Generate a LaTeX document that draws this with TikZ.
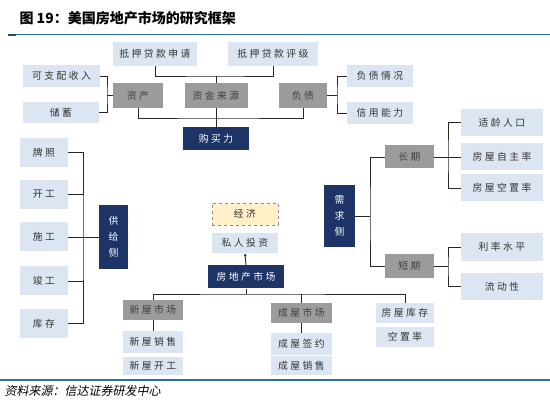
\documentclass[tikz,border=0pt]{standalone}
\usepackage{fontspec}
\setmainfont{Noto Sans CJK SC}
\newfontfamily\boxfont[LetterSpace=25]{Noto Sans CJK SC}
\newfontfamily\srcfont[FakeSlant=0.2]{Noto Sans CJK SC}
\usepackage{tikz}
\usetikzlibrary{arrows.meta,calc,positioning}
\definecolor{lightblue}{RGB}{220,230,242}
\definecolor{boxgrey}{RGB}{155,155,155}
\definecolor{navy}{RGB}{31,52,102}
\definecolor{paleyellow}{RGB}{255,240,200}
\definecolor{rulecol}{RGB}{46,110,170}
\definecolor{linecol}{RGB}{40,40,40}

\begin{document}
\begin{tikzpicture}[x=1pt,y=-1pt,
    lbox/.style={fill=lightblue,text=black!80,inner sep=0,font=\boxfont\fontsize{9.8}{11}\selectfont},
    gbox/.style={fill=boxgrey,text=black!75,inner sep=0,font=\boxfont\fontsize{9.8}{11}\selectfont},
    nbox/.style={fill=navy,text=white,inner sep=0,font=\boxfont\fontsize{9.8}{11}\selectfont},
    ybox/.style={fill=paleyellow,draw=black!45,dashed,line width=0.8pt,text=black!80,inner sep=0,
      font=\boxfont\fontsize{9.8}{11}\selectfont},
    conn/.style={draw=linecol,line width=0.9pt}]
  \useasboundingbox (0,0) rectangle (550,403);

  % Title and rules
  \node[anchor=west,font=\bfseries\fontsize{14}{16}\selectfont] (title) at (16,18) {图 19：美国房地产市场的研究框架};
  \draw[rulecol,line width=0.8pt] (8,34) -- (550,34);
  \draw[rulecol!70!black,line width=1.6pt] (8,35) -- (16,35);
  \draw[rulecol,line width=1.5pt] (0,380) -- (550,380);
  \node[anchor=west,font=\srcfont\fontsize{12}{13}\selectfont] (source) at (1,391) {资料来源：信达证券研发中心};

  % Purchasing power
  \node[lbox,minimum width=84,minimum height=24] (apply) at (155,54) {抵押贷款申请};
  \node[lbox,minimum width=90,minimum height=24] (rating) at (273,54) {抵押贷款评级};
  \node[gbox,minimum width=50,minimum height=25] (asset) at (138,95.5) {资产};
  \node[gbox,minimum width=63,minimum height=25] (fund) at (216,95.5) {资金来源};
  \node[gbox,minimum width=48,minimum height=25] (debt) at (303,95.5) {负债};
  \node[nbox,minimum width=66,minimum height=23] (buy) at (216,138.5) {购买力};
  \node[lbox,minimum width=77,minimum height=22] (income) at (61.5,76) {可支配收入};
  \node[lbox,minimum width=76,minimum height=21] (saving) at (61,112.5) {储蓄};
  \node[lbox,minimum width=66,minimum height=22] (debtinfo) at (380,76) {负债情况};
  \node[lbox,minimum width=66,minimum height=22] (credit) at (380,113) {信用能力};

  \coordinate (topbus) at (216,76);
  \coordinate (midbus) at (216,118);
  \coordinate (lbrace) at (107,95.5);
  \coordinate (rbrace) at (337,95.5);
  \draw[conn] (apply.south) |- (topbus) -| (rating.south);
  \draw[conn] (topbus) -- (fund.north);
  \draw[conn] (fund.south) -- (buy.north);
  \draw[conn] (asset.south) |- (midbus) -| (debt.south);
  \draw[conn] (income.east) -| (lbrace) |- (saving.east);
  \draw[conn] (lbrace) -- (asset.west);
  \draw[conn] (debtinfo.west) -| (rbrace) |- (credit.west);
  \draw[conn] (debt.east) -- (rbrace);

  % Supply side
  \node[lbox,minimum width=48,minimum height=29] (licence) at (44,152.5) {牌照};
  \node[lbox,minimum width=48,minimum height=29] (start) at (44,194.5) {开工};
  \node[lbox,minimum width=48,minimum height=29] (build) at (44,237) {施工};
  \node[lbox,minimum width=48,minimum height=29] (finish) at (44,281) {竣工};
  \node[lbox,minimum width=48,minimum height=29] (inventory) at (44,323.5) {库存};
  \node[nbox,minimum width=29,minimum height=64,text width=11,align=center,
    font=\boxfont\fontsize{9.8}{16}\selectfont] (supply) at (113.5,237) {供\\给\\侧};
  \coordinate (sbrace) at (83,237);
  \draw[conn] (licence.east) -| (sbrace) |- (inventory.east);
  \draw[conn] (start.east) -- (start.east -| sbrace);
  \draw[conn] (finish.east) -- (finish.east -| sbrace);
  \draw[conn] (build.east) -- (supply.west);

  % Demand side
  \node[nbox,minimum width=31,minimum height=62,text width=11,align=center,
    font=\boxfont\fontsize{9.8}{16}\selectfont] (demand) at (339.5,216) {需\\求\\侧};
  \node[gbox,minimum width=49,minimum height=23] (long) at (409.5,157) {长期};
  \node[gbox,minimum width=49,minimum height=24] (short) at (409.5,266) {短期};
  \node[lbox,minimum width=82,minimum height=27] (age) at (502,122.5) {适龄人口};
  \node[lbox,minimum width=82,minimum height=27] (own) at (502,157) {房屋自主率};
  \node[lbox,minimum width=82,minimum height=27] (vacancy) at (502,188) {房屋空置率};
  \node[lbox,minimum width=82,minimum height=28] (rate) at (502,247) {利率水平};
  \node[lbox,minimum width=82,minimum height=27] (liquidity) at (502,286.5) {流动性};
  \coordinate (dbrace) at (370,216);
  \coordinate (lgbrace) at (448,157);
  \coordinate (shbrace) at (448,266);
  \draw[conn] (long.west) -| (dbrace) |- (short.west);
  \draw[conn] (demand.east) -- (dbrace);
  \draw[conn] (age.west) -| (lgbrace) |- (vacancy.west);
  \draw[conn] (long.east) -- (own.west);
  \draw[conn] (rate.west) -| (shbrace) |- (liquidity.west);
  \draw[conn] (short.east) -- (shbrace);

  % Housing market
  \node[ybox,minimum width=66,minimum height=22] (economy) at (245,214) {经济};
  \node[lbox,minimum width=66,minimum height=20] (invest) at (245,243) {私人投资};
  \node[nbox,minimum width=76,minimum height=23] (market) at (246,277) {房地产市场};
  \draw[conn,-{Latex[length=3pt,width=3pt]}] (market.north) -- (invest.south);

  \node[gbox,minimum width=60,minimum height=20] (newmkt) at (153,310) {新屋市场};
  \node[lbox,minimum width=60,minimum height=22] (newsale) at (153,342) {新屋销售};
  \node[lbox,minimum width=60,minimum height=18] (newstart) at (153,366) {新屋开工};
  \node[gbox,minimum width=61,minimum height=20] (oldmkt) at (301.5,313) {成屋市场};
  \node[lbox,minimum width=61,minimum height=22] (oldsign) at (301.5,344) {成屋签约};
  \node[lbox,minimum width=61,minimum height=19] (oldsale) at (301.5,366) {成屋销售};
  \node[lbox,minimum width=58,minimum height=20] (stock) at (405,313) {房屋库存};
  \node[lbox,minimum width=58,minimum height=20] (vacant) at (405,337) {空置率};

  \coordinate (bbus) at (246,294);
  \draw[conn] (market.south) -- (bbus);
  \draw[conn] (newmkt.north) |- (bbus) -| (stock.north);
  \draw[conn] (oldmkt.north) -- (oldmkt.north |- bbus);
  \draw[conn] (newmkt.south) -- (newsale.north);
  \draw[conn] (oldmkt.south) -- (oldsign.north);
\end{tikzpicture}
\end{document}
